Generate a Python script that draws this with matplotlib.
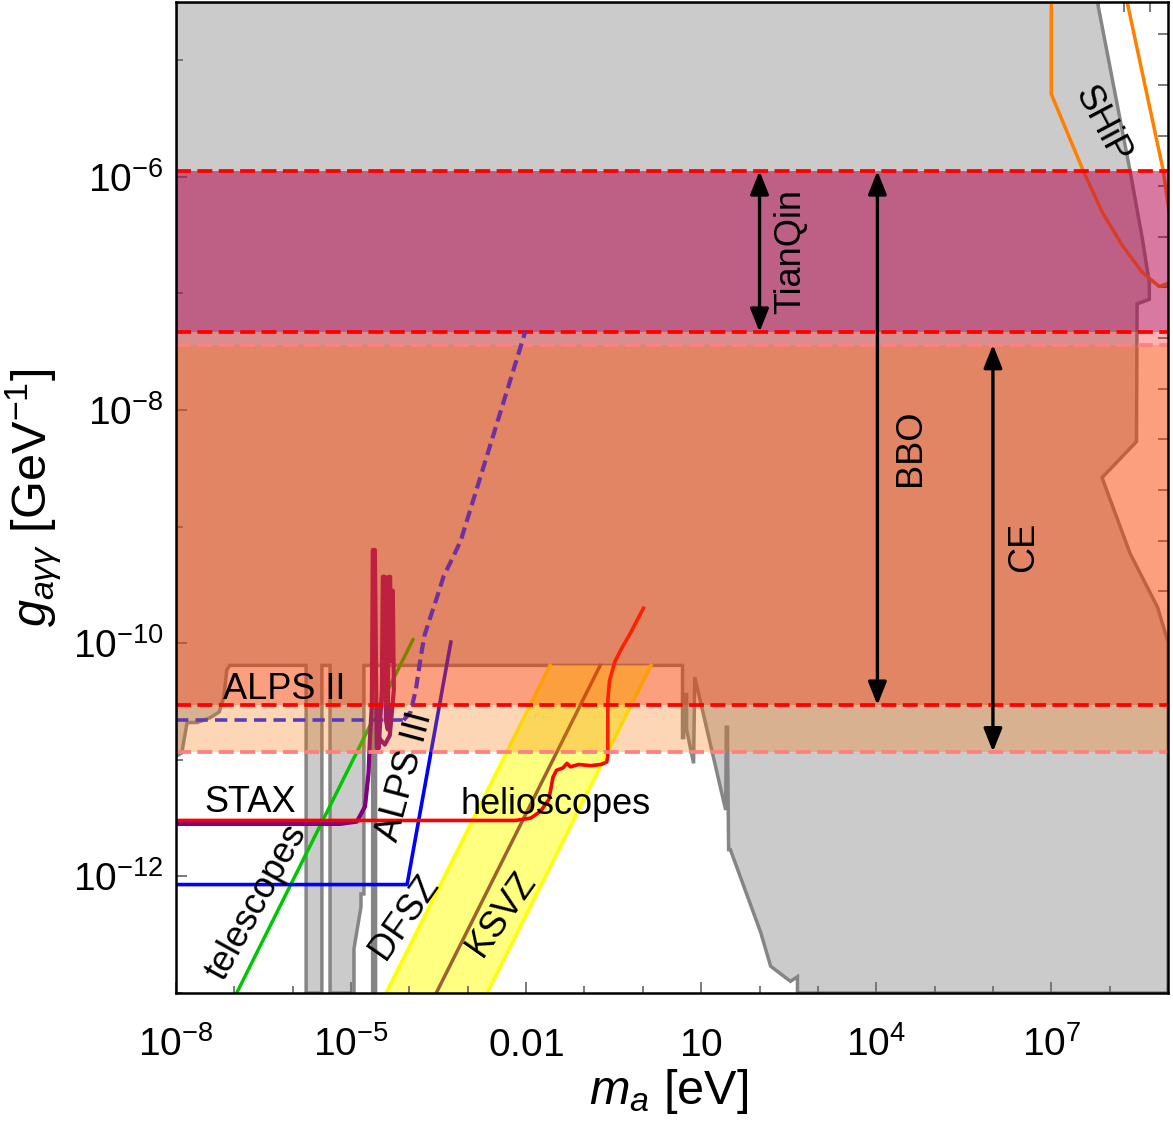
import numpy as np
import matplotlib
matplotlib.use("Agg")
import matplotlib.pyplot as plt
from matplotlib import font_manager
from matplotlib.ticker import FixedLocator, NullFormatter, NullLocator

installed = {f.name for f in font_manager.fontManager.ttflist}
narrow = "Liberation Sans Narrow" if "Liberation Sans Narrow" in installed else "Liberation Sans"

plt.rcParams["font.family"] = ["Liberation Sans", "DejaVu Sans"]
plt.rcParams["mathtext.fontset"] = "custom"
plt.rcParams["mathtext.rm"] = narrow
plt.rcParams["mathtext.it"] = "Liberation Sans:italic"
plt.rcParams["mathtext.bf"] = "Liberation Sans:bold"

# ---------------- data: log10(m_a / eV) and log10(g / GeV^-1) ----------------
x_range = [-8, 9]
y_range = [-13, -4.5]

# excluded region (grey), outline
grey_x = [-8, -8, -7.90, -7.81, -7.64, -7.42, -7.26, -7.18, -7.13, -7.08,
          -5.77, -5.77, -5.50, -5.50,
          -5.36, -5.36, -4.95, -4.95, -4.83, -4.83, -4.78, -4.78,
          -4.63, -4.63, -4.58, -4.58,
          0.68, 0.68, 0.70, 0.70, 0.75, 0.75, 0.87, 0.89, 1.42, 1.43, 1.45, 1.47,
          1.50, 2.02, 2.19, 2.53, 2.65, 2.65,
          9, 9, 8.82, 8.35, 7.87, 8.46, 8.47, 8.68, 8.68, 8.56, 8.35, 7.79]
grey_y = [-4.5, -10.97, -10.94, -10.68, -10.68, -10.64, -10.59, -10.46, -10.23, -10.19,
          -10.19, -13, -13, -10.19,
          -10.19, -13, -13, -12.62, -12.26, -12.15, -12.15, -10.19,
          -10.19, -13, -13, -10.19,
          -10.19, -10.81, -10.81, -10.44, -10.44, -10.74, -11.03, -10.29, -11.43, -10.72, -10.72, -11.77,
          -11.77, -12.48, -12.77, -12.90, -12.86, -13,
          -13, -9.99, -9.69, -9.23, -8.58, -8.27, -7.09, -7.05, -6.91, -6.53, -5.95, -4.5]

# QCD axion band (clipped at the helioscope limit)
dfsz_x = [-4.40, -1.59]
dfsz_y = [-13.0, -10.19]
band_hi_x = [-2.67, 0.14]
band_hi_y = [-13.0, -10.19]
ksvz_x = [-3.54, -0.73]
ksvz_y = [-13.0, -10.19]

# sensitivity curves
helio_x = [-8, -2.18, -1.92, -1.75, -1.61, -1.54, -1.48, -1.37, -1.30, -1.24, -1.10, -0.89,
           -0.72, -0.62, -0.60, -0.60, -0.57, -0.48, -0.38, -0.21, 0.01]
helio_y = [-11.52, -11.52, -11.50, -11.44, -11.34, -11.15, -11.09, -11.07, -11.03, -11.06, -11.04, -11.05,
           -11.04, -11.02, -10.97, -10.49, -10.32, -10.16, -10.06, -9.91, -9.70]

stax_x = [-8, -5.19, -4.90, -4.76, -4.70, -4.678, -4.644, -4.627, -4.592, -4.558, -4.524, -4.473,
          -4.455, -4.421, -4.404, -4.370, -4.353, -4.330, -4.318, -4.301, -4.284, -4.267, -4.336, -4.421, -4.490]
stax_y = [-11.55, -11.55, -11.53, -11.40, -11.11, -10.83, -10.53, -9.20, -9.20, -10.90, -10.90, -10.40,
          -9.43, -9.43, -10.66, -10.74, -9.43, -9.43, -10.15, -9.55, -9.55, -10.40, -10.79, -10.87, -10.83]

alps3_x = [-8, -4.04, -3.29]
alps3_y = [-12.07, -12.07, -9.99]

tele_x = [-6.96, -3.94]
tele_y = [-13.0, -9.97]

alps2_x = [-8, -4.10]
alps2_y = [-10.66, -10.66]

alps3_proj_x = [-4.10, -3.98, -3.89, -3.80, -3.74, -3.63, -3.53, -3.41, -3.26, -3.12, -2.01]
alps3_proj_y = [-10.66, -10.59, -10.40, -10.10, -9.93, -9.76, -9.61, -9.42, -9.27, -9.12, -7.32]

ship1_x = [7.0, 7.0, 7.55, 7.87, 8.22, 8.56, 8.85, 9.02]
ship1_y = [-4.5, -5.29, -5.95, -6.30, -6.59, -6.82, -6.94, -6.91]
ship2_x = [8.30, 8.92, 9.02]
ship2_y = [-4.5, -5.95, -6.30]

# gravitational-wave detector reach (lower, upper)
tianqin = [-7.33, -5.95]
bbo = [-10.53, -5.95]
ce = [-10.93, -7.44]

xtick_pos = [-8, -5, -2, 1, 4, 7]
xtick_labels = [r"$10^{-8}$", r"$10^{-5}$", r"$0.01$", r"$10$", r"$10^{4}$", r"$10^{7}$"]
ytick_pos = [-12, -10, -8, -6]
ytick_labels = [r"$10^{-12}$", r"$10^{-10}$", r"$10^{-8}$", r"$10^{-6}$"]


def P(a):
    return 10.0 ** np.asarray(a, dtype=float)


fig = plt.figure(figsize=(11.73, 11.21), dpi=100)
ax = fig.add_axes([176 / 1173, 128 / 1121, 992 / 1173, 991 / 1121])
ax.set_xscale("log")
ax.set_yscale("log")
ax.set_xlim(P(x_range))
ax.set_ylim(P(y_range))

# existing limits
ax.fill(P(grey_x), P(grey_y), facecolor="#cbcbcb", edgecolor="#858585", lw=2.5, zorder=1)

# QCD axion band
ax.fill(P(dfsz_x + band_hi_x[::-1]), P(dfsz_y + band_hi_y[::-1]), color="#ffff80", lw=0, zorder=1.5)
ax.plot(P(dfsz_x), P(dfsz_y), color="#ffff00", lw=2.5, zorder=1.6)
ax.plot(P(band_hi_x), P(band_hi_y), color="#ffff00", lw=2.5, zorder=1.6)
ax.plot(P(ksvz_x), P(ksvz_y), color="#a0622d", lw=2.5, zorder=1.7)

# curves below the GW bands
ax.plot(P(tele_x), P(tele_y), color="#00c800", lw=2.5, zorder=2)
ax.plot(P(alps3_x), P(alps3_y), color="#0000ff", lw=2.6, zorder=2)
ax.plot(P(stax_x), P(stax_y), color="#800080", lw=3.0, zorder=2.1)
ax.plot(P(helio_x), P(helio_y), color="#ff0000", lw=2.6, zorder=2.2)
ax.plot(P(alps2_x), P(alps2_y), color="#1a28ff", lw=2.6, dashes=(3.4, 2.0), zorder=2)
ax.plot(P(ship1_x), P(ship1_y), color="#ff8000", lw=2.5, zorder=2)
ax.plot(P(ship2_x), P(ship2_y), color="#ff8000", lw=2.5, zorder=2)

# GW detector bands
xs = P(x_range)
ax.fill_between(xs, P(bbo[0]), P(bbo[1]), color="#ff0000", alpha=0.30, lw=0, zorder=3)
ax.fill_between(xs, P(tianqin[0]), P(tianqin[1]), color="#85037a", alpha=0.32, lw=0, zorder=3.1)
ax.fill_between(xs, P(ce[0]), P(ce[1]), color="#f87200", alpha=0.29, lw=0, zorder=3.2)

for v in [bbo[1], tianqin[0], bbo[0]]:
    ax.axhline(P(v), color="#ff0000", lw=2.7, dashes=(4.0, 1.7), zorder=4)
for v in ce:
    ax.axhline(P(v), color="#ff8080", lw=2.7, dashes=(4.0, 1.7), zorder=4)

ax.plot(P(alps3_proj_x), P(alps3_proj_y), color="#7030a0", lw=3.0, dashes=(2.8, 1.4), zorder=4)

# arrows for the detector reach
arrow_style = dict(arrowstyle="<|-|>,head_length=0.7,head_width=0.28", color="black",
                   lw=2.4, shrinkA=0, shrinkB=0, mutation_scale=20)
for lx, band in zip([2.0, 4.02, 6.0], [tianqin, bbo, ce]):
    ax.annotate("", xy=(P(lx), P(band[1])), xytext=(P(lx), P(band[0])),
                arrowprops=arrow_style, zorder=5)

# labels
fs = 26
def label(lx, ly, s, rot=0):
    ax.text(P(lx), P(ly), s, fontsize=fs, rotation=rot, ha="center", va="center",
            rotation_mode="anchor", zorder=6)

label(2.53, -6.64, "TianQin", 90)
label(4.59, -8.32, "BBO", 90)
label(6.52, -9.17, "CE", 90)
label(7.87, -5.55, "SHiP", -62)
label(-6.15, -10.40, "ALPS II")
label(-6.72, -11.37, "STAX")
label(-1.49, -11.38, "helioscopes")
label(-4.08, -11.14, "ALPS III", 75)
label(-6.61, -12.22, "telescopes", 61)
label(-4.08, -12.35, "DFSZ", 55)
label(-2.43, -12.32, "KSVZ", 55)

# axes, ticks
ax.xaxis.set_major_locator(FixedLocator(P(xtick_pos)))
ax.xaxis.set_minor_locator(FixedLocator(P(np.arange(-8, 10))))
ax.xaxis.set_minor_formatter(NullFormatter())
ax.set_xticklabels(xtick_labels)
ax.yaxis.set_major_locator(FixedLocator(P(ytick_pos)))
ax.yaxis.set_minor_locator(FixedLocator(P(np.arange(-13, -4))))
ax.yaxis.set_minor_formatter(NullFormatter())
ax.set_yticklabels(ytick_labels)

ax.tick_params(which="both", direction="in", color="#707070", width=1.3, top=False, right=False)
ax.tick_params(which="major", length=8)
ax.tick_params(which="minor", length=5)
ax.tick_params(axis="x", labelsize=28, pad=45)
ax.tick_params(axis="y", labelsize=28, pad=9)
plt.setp(ax.get_xticklabels(), va="baseline")

top = ax.secondary_xaxis("top")
top.xaxis.set_major_locator(FixedLocator(np.exp(np.arange(-18, 21))))
top.xaxis.set_minor_locator(NullLocator())
top.tick_params(direction="in", length=7, width=1.3, color="#707070", labeltop=False)
top.spines["top"].set_visible(False)
right = ax.secondary_yaxis("right")
right.yaxis.set_major_locator(FixedLocator(np.exp(np.arange(-29, -10))))
right.yaxis.set_minor_locator(NullLocator())
right.tick_params(direction="in", length=7, width=1.3, color="#707070", labelright=False)
right.spines["right"].set_visible(False)

for sp in ax.spines.values():
    sp.set_linewidth(1.8)
    sp.set_zorder(10)

ax.set_xlabel(r"$m_a$ [eV]", fontsize=35, va="center")
ax.xaxis.set_label_coords(0.497, -0.099)
ax.set_ylabel(r"$g_{a\gamma\gamma}$ [GeV$^{-1}$]", fontsize=35, va="center")
ax.yaxis.set_label_coords(-0.143, 0.50)

fig.savefig("out.png", dpi=100)
